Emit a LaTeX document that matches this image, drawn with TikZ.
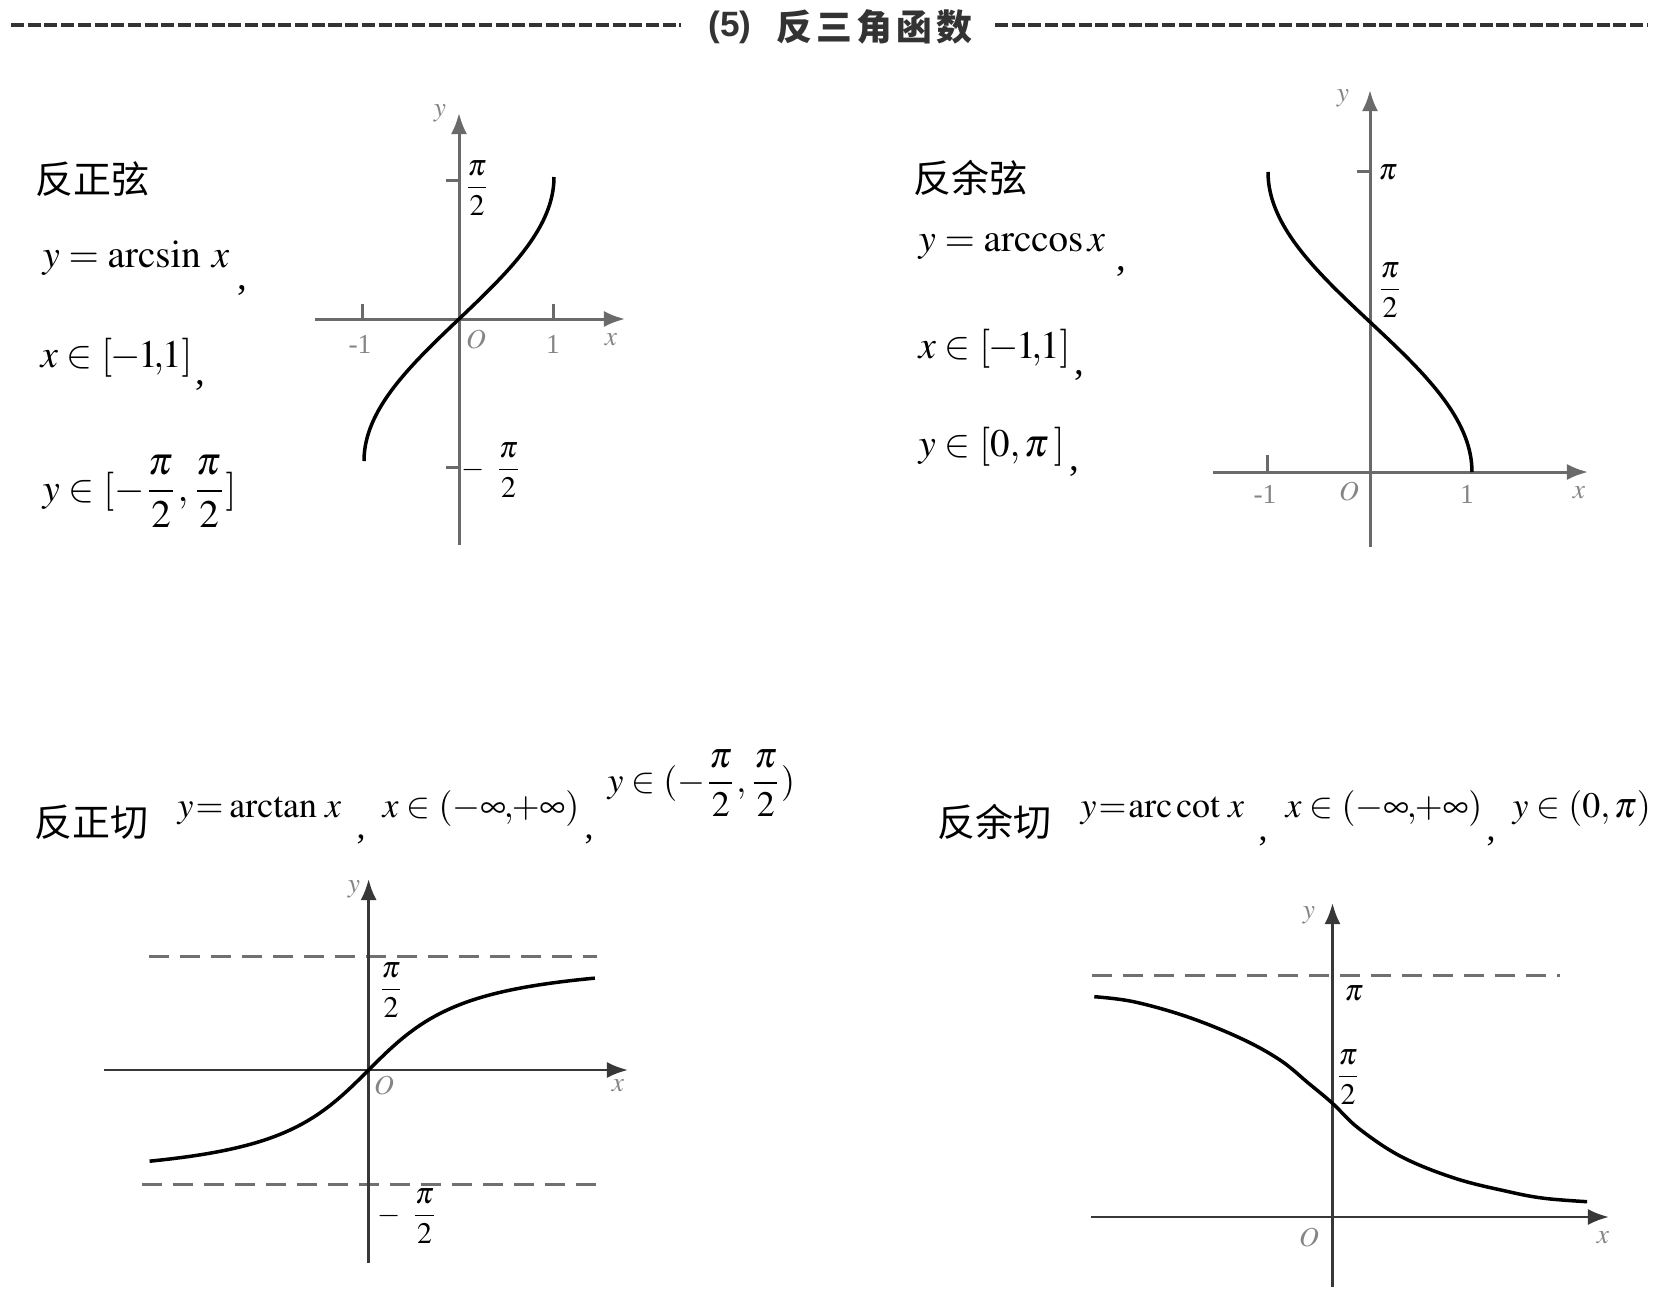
\documentclass[tikz,border=0pt]{standalone}
\usepackage{amsmath}
\usepackage{mathptmx}
\usepackage{fontspec}
\setmainfont{Liberation Serif}
\newfontfamily\cjk{Noto Sans CJK SC}
\newfontfamily\hsans{Liberation Sans}
\usetikzlibrary{arrows.meta}
\definecolor{axgray}{HTML}{6A6A6A}
\definecolor{axdark}{HTML}{383838}
\definecolor{lblgray}{HTML}{858585}
\definecolor{dashgray}{HTML}{707070}
\definecolor{hdgray}{HTML}{333333}
\tikzset{
  ax/.style={line width=0.03cm, draw=axgray, -{Latex[length=0.21cm,width=0.16cm]}},
  axd/.style={line width=0.028cm, draw=axdark, -{Latex[length=0.21cm,width=0.16cm]}},
  crv/.style={line width=0.035cm, draw=black},
  asym/.style={line width=0.03cm, draw=dashgray, dash pattern=on 0.2cm off 0.11cm},
  tickmk/.style={line width=0.03cm, draw=axgray},
  hdash/.style={line width=0.032cm, draw=hdgray, dash pattern=on 0.13cm off 0.037cm},
  albl/.style={text=lblgray, font=\fontsize{7.8pt}{9pt}\selectfont, inner sep=0},
  frl/.style={font=\fontsize{8.5pt}{10pt}\selectfont, inner sep=0},
  cjkl/.style={font=\cjk\fontsize{10.8pt}{13pt}\selectfont, inner sep=0, anchor=west},
  mA/.style={font=\fontsize{11.1pt}{13pt}\selectfont, inner sep=0, anchor=base west},
  mB/.style={font=\fontsize{10.2pt}{12pt}\selectfont, inner sep=0, anchor=base west},
}
\begin{document}
\begin{tikzpicture}[x=0.01cm, y=-0.01cm]
\useasboundingbox (0,0) rectangle (1668,1302);
\fill[white] (0,0) rectangle (1668,1302);

% ---------- header ----------
\coordinate (hl1) at (11,25); \coordinate (hl2) at (681,25);
\coordinate (hr1) at (995,25); \coordinate (hr2) at (1647,25);
\draw[hdash] (hl1) -- (hl2);
\draw[hdash] (hr1) -- (hr2);
\node[anchor=west, inner sep=0, text=hdgray, font=\hsans\bfseries\fontsize{10pt}{12pt}\selectfont] (hnum) at (708,27) {(5)};
\node[anchor=west, inner sep=0, text=hdgray, font=\cjk\bfseries\fontsize{10.2pt}{12pt}\selectfont] (htitle) at (776,27) {反\kern0.04cm 三\kern0.04cm 角\kern0.04cm 函\kern0.04cm 数};

% ---------- panel 1: arcsin ----------
\node[cjkl] (t1) at (35,179) {反正弦};
\node[mA] (f1a) at (42,267) {$y=\arcsin\mkern3mu x$};
\node[mA] (c1a) at (237,289) {,};
\node[mA] (f1b) at (40,367) {$x\in[\mkern-1mu-\mkern-1mu1\mkern-2mu{,}\mkern-1mu1]$};
\node[mA] (c1b) at (195,384) {,};
\node[mA] (f1c) at (42,501) {$y\in[-\dfrac{\pi}{2},\dfrac{\pi}{2}]$};

\coordinate (o1) at (459,319);
\coordinate (x1s) at (315,319); \coordinate (x1e) at (625,319);
\coordinate (y1s) at (459,545); \coordinate (y1e) at (459,113);
\draw[ax] (x1s) -- (x1e);
\draw[ax] (y1s) -- (y1e);
\draw[tickmk] (362,304) -- (362,319);
\draw[tickmk] (553,304) -- (553,319);
\draw[tickmk] (446,180) -- (459,180);
\draw[tickmk] (446,467) -- (459,467);
\draw[crv] plot[domain=-90:90, samples=80, variable=\t] ({459+95*sin(\t)}, {319-1.5778*\t});
\node[albl] (y1l) at (440,113) {$y$};
\node[albl] (o1l) at (476,340) {$O$};
\node[albl] (x1l) at (611,340) {$x$};
\node[albl] (m1l) at (360,344) {-1};
\node[albl] (p1l) at (553,344) {1};
\node[frl] (h1a) at (477,188) {$\dfrac{\pi}{2}$};
\node[frl] (h1b) at (492,470) {$-\mkern6mu\dfrac{\pi}{2}$};

% ---------- panel 2: arccos ----------
\node[cjkl] (t2) at (913,178) {反余弦};
\node[mA] (f2a) at (918,251) {$y=\arccos x$};
\node[mA] (c2a) at (1116,270) {,};
\node[mA] (f2b) at (918,358) {$x\in[\mkern-1mu-\mkern-1mu1\mkern-2mu{,}\mkern-1mu1]$};
\node[mA] (c2b) at (1074,374) {,};
\node[mA] (f2c) at (918,456) {$y\in[0,\pi\,]$};
\node[mA] (c2c) at (1069,470) {,};

\coordinate (o2) at (1370,472);
\coordinate (x2s) at (1213,472); \coordinate (x2e) at (1588,472);
\coordinate (y2s) at (1370,547); \coordinate (y2e) at (1370,90);
\draw[ax] (x2s) -- (x2e);
\draw[ax] (y2s) -- (y2e);
\draw[tickmk] (1267,455) -- (1267,472);
\draw[tickmk] (1357,171) -- (1370,171);
\draw[crv] plot[domain=0:180, samples=80, variable=\t] ({1370+102*cos(\t)}, {472-1.6668*\t});
\node[albl] (y2l) at (1343,98) {$y$};
\node[albl] (o2l) at (1349,492) {$O$};
\node[albl] (x2l) at (1579,493) {$x$};
\node[albl] (m2l) at (1265,494) {-1};
\node[albl] (p2l) at (1467,494) {1};
\node[frl] (h2a) at (1388,172) {$\pi$};
\node[frl] (h2b) at (1390,290) {$\dfrac{\pi}{2}$};

% ---------- panel 3: arctan ----------
\node[cjkl] (t3) at (34,822) {反正切};
\node[mB] (f3a) at (177,817) {$y\mkern1mu{=}\mkern1mu\arctan\mkern2mu x$};
\node[mB] (c3a) at (356,838) {,};
\node[mB] (f3b) at (382,817) {$x\in(-\infty\mkern-1mu{,}\mkern-1mu{+}\infty)$};
\node[mB] (c3b) at (584,838) {,};
\node[mB] (f3c) at (607,792) {$y\in(-\dfrac{\pi}{2},\dfrac{\pi}{2})$};

\coordinate (o3) at (368.6,1070);
\coordinate (x3s) at (104,1070); \coordinate (x3e) at (628,1070);
\coordinate (y3s) at (368.6,1263); \coordinate (y3e) at (368.6,879);
\coordinate (a3s) at (149,956); \coordinate (a3e) at (597,956);
\coordinate (b3s) at (142,1184); \coordinate (b3e) at (597,1184);
\draw[asym] (a3s) -- (a3e);
\draw[asym] (b3s) -- (b3e);
\draw[axd] (x3s) -- (x3e);
\draw[axd] (y3s) -- (y3e);
\draw[crv] plot[domain=-3.0:3.1, samples=80, variable=\t] ({368.6+73*\t}, {1070-1.2741*atan(\t)});
\node[albl] (y3l) at (354,889) {$y$};
\node[albl] (o3l) at (384,1086) {$O$};
\node[albl] (x3l) at (618,1086) {$x$};
\node[frl] (h3a) at (391,990) {$\dfrac{\pi}{2}$};
\node[frl] (h3b) at (408,1216) {$-\mkern6mu\dfrac{\pi}{2}$};

% ---------- panel 4: arccot ----------
\node[cjkl] (t4) at (937,822) {反余切};
\node[mB] (f4a) at (1080,817) {$y\mkern1mu{=}\mkern1mu\mathrm{arc\,cot}\mkern4mu x$};
\node[mB] (c4a) at (1258,840) {,};
\node[mB] (f4b) at (1285,817) {$x\in(-\infty\mkern-1mu{,}\mkern-1mu{+}\infty)$};
\node[mB] (c4b) at (1486,840) {,};
\node[mB] (f4c) at (1512,817) {$y\in(0,\pi)$};

\coordinate (o4) at (1332.5,1217);
\coordinate (x4s) at (1091,1217); \coordinate (x4e) at (1609,1217);
\coordinate (y4s) at (1332.5,1287); \coordinate (y4e) at (1332.5,903);
\coordinate (a4s) at (1092,975); \coordinate (a4e) at (1560,975);
\draw[asym] (a4s) -- (a4e);
\draw[axd] (x4s) -- (x4e);
\draw[axd] (y4s) -- (y4e);
\draw[crv] plot[smooth, tension=0.6] coordinates {(1094.3,996.7) (1133.6,1001.7) (1187.1,1016.7) (1240.7,1038.3) (1280,1060) (1308.6,1083.3) (1332.5,1103.3) (1358.6,1128.3) (1401.4,1156.7) (1455,1178.3) (1508.6,1191.7) (1544.3,1198.3) (1587.1,1201.7)};
\node[albl] (y4l) at (1309,915) {$y$};
\node[albl] (o4l) at (1309,1238) {$O$};
\node[albl] (x4l) at (1603,1238) {$x$};
\node[frl] (h4a) at (1354,993) {$\pi$};
\node[frl] (h4b) at (1348,1077) {$\dfrac{\pi}{2}$};
\end{tikzpicture}
\end{document}
